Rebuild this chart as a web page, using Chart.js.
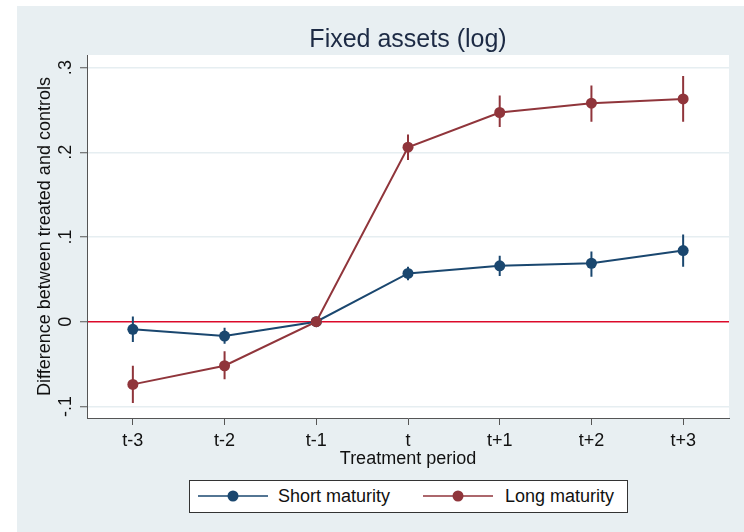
<!DOCTYPE html>
<html><head><meta charset="utf-8">
<script src="https://cdn.jsdelivr.net/npm/chart.js@4/dist/chart.umd.min.js"></script>
<style>
html,body{margin:0;padding:0;background:#fff;}
#wrap{position:relative;width:744px;height:532px;}
#legend{position:absolute;left:189px;top:480px;width:439px;height:33px;box-sizing:border-box;border:1px solid #333;background:#fff;font-family:"Liberation Sans",Arial,sans-serif;font-size:18px;color:#111;}
.sym{position:absolute;top:8px;}
.txt{position:absolute;top:5px;line-height:20px;white-space:nowrap;}
</style></head>
<body><div id="wrap"><canvas id="c" width="744" height="532"></canvas><div id="legend"></div></div>
<script>
const categories = ['t-3','t-2','t-1','t','t+1','t+2','t+3'];
const shortLabel = 'Short maturity';
const longLabel = 'Long maturity';
const shortEst = [-0.009, -0.017, 0, 0.057, 0.066, 0.069, 0.084];
const shortLo  = [-0.024, -0.026, null, 0.049, 0.054, 0.053, 0.065];
const shortHi  = [ 0.006, -0.007, null, 0.065, 0.078, 0.083, 0.103];
const longEst  = [-0.074, -0.052, 0, 0.206, 0.247, 0.258, 0.263];
const longLo   = [-0.096, -0.068, null, 0.191, 0.230, 0.236, 0.236];
const longHi   = [-0.052, -0.035, null, 0.221, 0.267, 0.279, 0.290];
const yTicks = [-0.1, 0, 0.1, 0.2, 0.3];
const yTickLabels = ['-.1', '0', '.1', '.2', '.3'];

const NAVY = '#1a476f', MAROON = '#90353b', REDLINE = '#dc0a2a';
const FONT = '"Liberation Sans", Arial, sans-serif';

function pts(arr){ return arr.map((y,i)=>({x:i,y:y})); }
function errData(lo, hi){
  const d = [];
  categories.forEach((c,i)=>{
    if (lo[i] == null) return;
    d.push({x:i,y:lo[i]},{x:i,y:hi[i]},{x:i,y:null});
  });
  return d;
}

const bgPlugin = {
  id: 'bg',
  beforeDraw(chart){
    const {ctx, chartArea:a} = chart;
    ctx.save();
    ctx.fillStyle = '#ffffff';
    ctx.fillRect(0,0,chart.width,chart.height);
    ctx.fillStyle = '#e8eff2';
    ctx.fillRect(17,6,chart.width-17,chart.height-6);
    ctx.fillStyle = '#ffffff';
    ctx.fillRect(a.left,a.top,a.right-a.left,a.bottom-a.top);
    ctx.restore();
  }
};

new Chart(document.getElementById('c'), {
  type: 'line',
  data: { datasets: [
    { label: longLabel, data: pts(longEst), borderColor: MAROON, backgroundColor: MAROON,
      pointBackgroundColor: MAROON, pointBorderWidth: 0, pointRadius: 5.5, borderWidth: 2, tension: 0 },
    { label: shortLabel, data: pts(shortEst), borderColor: NAVY, backgroundColor: NAVY,
      pointBackgroundColor: NAVY, pointBorderWidth: 0, pointRadius: 5.5, borderWidth: 2, tension: 0 },
    { label: longLabel + ' CI', data: errData(longLo, longHi), borderColor: MAROON, borderWidth: 2,
      pointRadius: 0, spanGaps: false },
    { label: shortLabel + ' CI', data: errData(shortLo, shortHi), borderColor: NAVY, borderWidth: 2,
      pointRadius: 0, spanGaps: false }
  ]},
  options: {
    responsive: false, animation: false, devicePixelRatio: 1,
    layout: { padding: { left: 20, right: 15, top: 0, bottom: 55 } },
    plugins: {
      legend: { display: false },
      tooltip: { enabled: false },
      title: { display: true, text: 'Fixed assets (log)', fullSize: false, color: '#1c2a44',
        font: { family: FONT, size: 25, weight: 'normal', lineHeight: 1.2 },
        padding: { top: 25, bottom: 0 } }
    },
    scales: {
      x: {
        type: 'linear', min: -0.5, max: 6.5,
        afterBuildTicks: s => { s.ticks = categories.map((c,i)=>({value:i})); },
        afterFit: s => { s.height = 59; },
        ticks: { callback: v => categories[Math.round(v)], autoSkip: false, maxRotation: 0, minRotation: 0,
          padding: 5, color: '#111', font: { family: FONT, size: 18, lineHeight: 1.2 } },
        grid: { drawOnChartArea: false, drawTicks: true, tickLength: 7, color: '#555', lineWidth: 1 },
        border: { display: true, color: '#555', width: 1 },
        title: { display: true, text: 'Treatment period', color: '#111',
          font: { family: FONT, size: 18, lineHeight: 1.2 }, padding: { top: 0, bottom: 7 } }
      },
      y: {
        min: -0.1137, max: 0.3149,
        afterBuildTicks: s => { s.ticks = yTicks.map(v=>({value:v})); },
        afterFit: s => { s.width = 67; },
        ticks: { callback: v => { const i = yTicks.findIndex(t=>Math.abs(t-v)<1e-9); return i>=0 ? yTickLabels[i] : ''; },
          minRotation: 90, maxRotation: 90, crossAlign: 'center', padding: 3, color: '#111',
          font: { family: FONT, size: 18, lineHeight: 1.2 } },
        grid: { color: c => (c.tick && Math.abs(c.tick.value) < 1e-9) ? REDLINE : '#e6eef1',
          lineWidth: 1.5, tickColor: '#555', tickLength: 7, drawTicks: true, tickWidth: 1 },
        border: { display: true, color: '#555', width: 1 },
        title: { display: true, text: 'Difference between treated and controls', color: '#111',
          font: { family: FONT, size: 18, lineHeight: 1.2 }, padding: { top: 14, bottom: 0 } }
      }
    }
  },
  plugins: [bgPlugin]
});

// HTML legend (text kept as real text)
(function(){
  const lg = document.getElementById('legend');
  const items = [ {label: shortLabel, color: NAVY, sym: 8, txt: 88}, {label: longLabel, color: MAROON, sym: 233, txt: 315} ];
  items.forEach(it => {
    const s = document.createElementNS('http://www.w3.org/2000/svg','svg');
    s.setAttribute('width','70'); s.setAttribute('height','14'); s.setAttribute('class','sym');
    s.style.left = it.sym + 'px';
    s.innerHTML = '<line x1="0" y1="7" x2="70" y2="7" stroke="'+it.color+'" stroke-width="1.6"/>' +
                  '<circle cx="35" cy="7" r="5.5" fill="'+it.color+'"/>';
    lg.appendChild(s);
    const t = document.createElement('span');
    t.className = 'txt'; t.style.left = it.txt + 'px'; t.textContent = it.label;
    lg.appendChild(t);
  });
})();
</script>
</body></html>
